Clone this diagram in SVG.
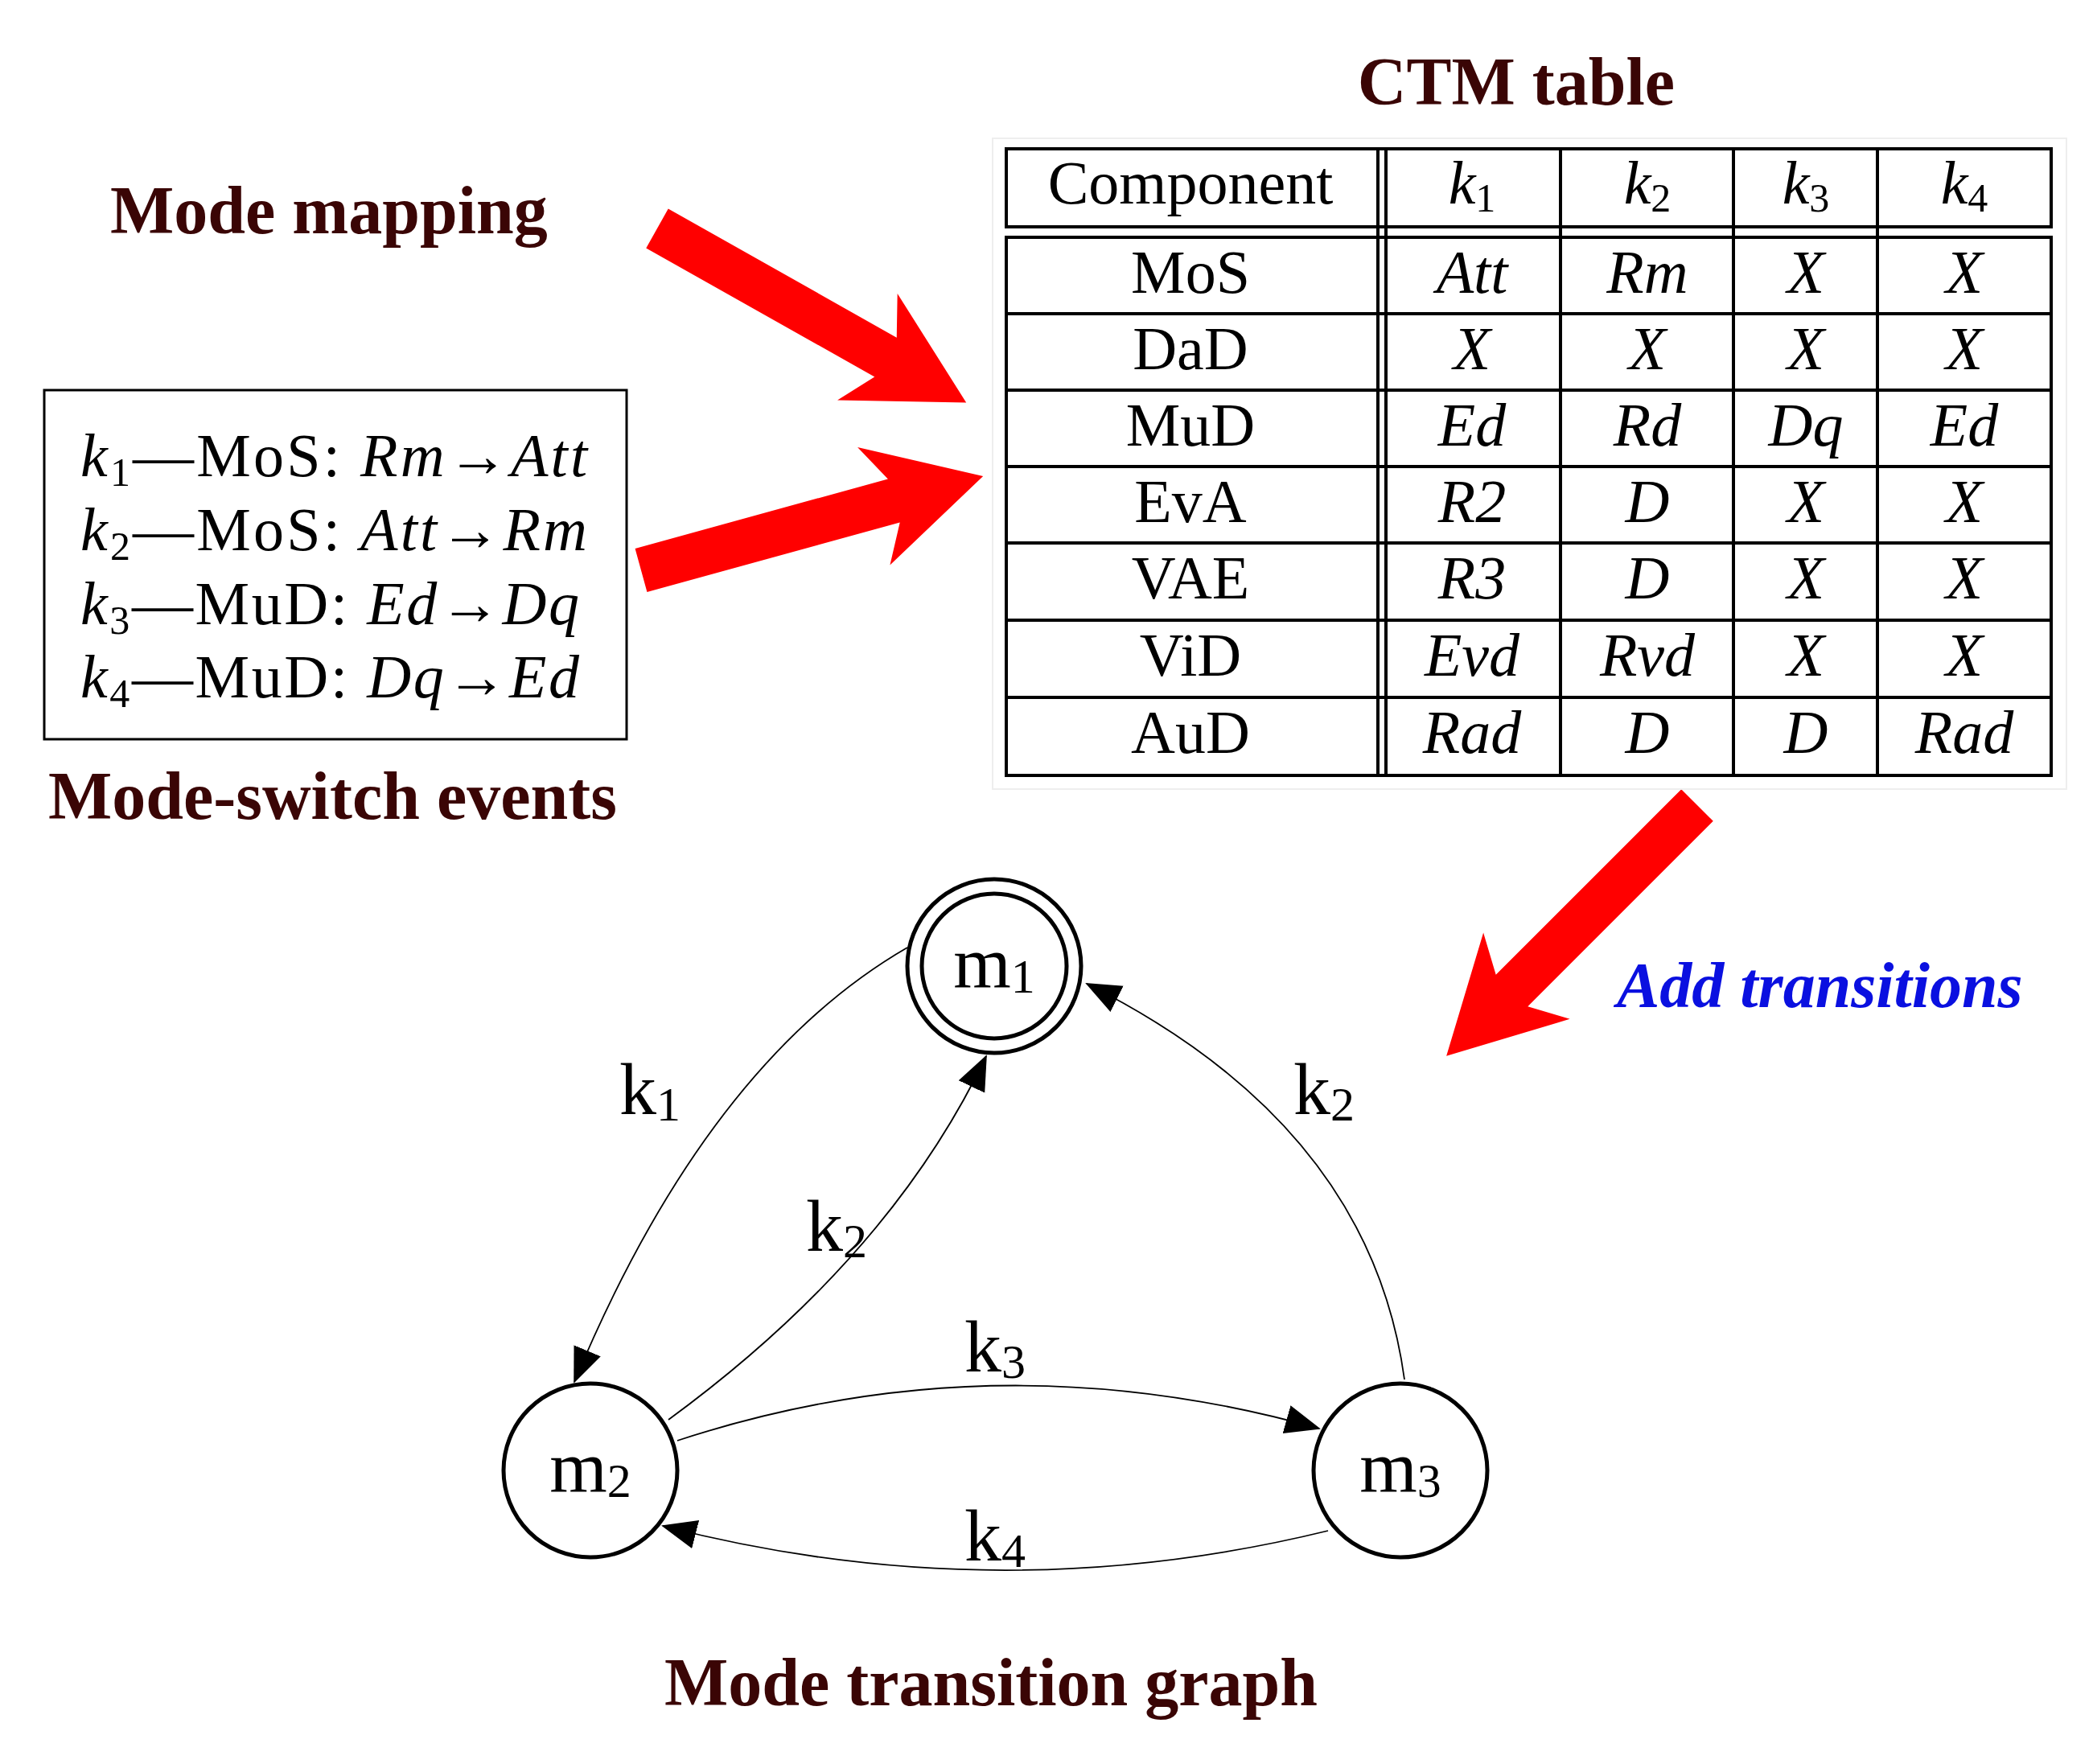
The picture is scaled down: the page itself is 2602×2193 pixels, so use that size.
<svg xmlns="http://www.w3.org/2000/svg" width="2602" height="2193" viewBox="0 0 2602 2193">
<style>
.title{font-family:"Liberation Serif",serif;font-weight:bold;fill:#3a0505;font-size:84px}
.t{font-family:"Liberation Serif",serif;font-size:76px;fill:#000}
.i{font-style:italic}
.cell{fill:none;stroke:#000;stroke-width:4}
.edge{fill:none;stroke:#000;stroke-width:1.8}
.node{fill:#fff;stroke:#000;stroke-width:5}
.nl{font-family:"Liberation Serif",serif;font-size:92px;text-anchor:middle}
.el{font-family:"Liberation Serif",serif;font-size:92px}
.red{fill:#ff0000}
</style>
<defs>
<marker id="ah" markerUnits="userSpaceOnUse" markerWidth="44" markerHeight="44" viewBox="0 0 44 44" refX="42" refY="22" orient="auto"><path d="M0,4 L44,22 L0,40 Z" fill="#000"/></marker>
<path id="arr" d="M0,-28 L326,-28 L300,-76 L441,0 L300,76 L326,28 L0,28 Z"/>
</defs>
<rect width="2602" height="2193" fill="#fff"/>
<text class="title" x="1885" y="130" text-anchor="middle" font-size="90">CTM table</text>
<text class="title" x="137" y="290">Mode mapping</text>
<text class="title" x="60" y="1018">Mode-switch events</text>
<text class="title" x="1232" y="2120" text-anchor="middle">Mode transition graph</text>
<text x="2010" y="1252" font-family="Liberation Serif,serif" font-weight="bold" font-style="italic" font-size="80" fill="#0a10e0">Add transitions</text>
<g id="arrows">
<use href="#arr" class="red" transform="translate(817,284) rotate(29.4)"/>
<use href="#arr" class="red" transform="translate(797,709) rotate(-15.4)"/>
<use href="#arr" class="red" transform="translate(2110,1001) rotate(135)"/>
</g>
<g id="events">
<rect x="55" y="485" width="724" height="434" fill="none" stroke="#000" stroke-width="3"/>
<g class="t" textLength="630">
<text x="100" y="592" textLength="630" lengthAdjust="spacing"><tspan class="i">k</tspan><tspan font-size="50" dy="12">1</tspan><tspan dy="-12">—MoS:  </tspan><tspan class="i">Rm</tspan>→<tspan class="i">Att</tspan></text>
<text x="100" y="684" textLength="630" lengthAdjust="spacing"><tspan class="i">k</tspan><tspan font-size="50" dy="12">2</tspan><tspan dy="-12">—MoS:  </tspan><tspan class="i">Att</tspan>→<tspan class="i">Rm</tspan></text>
<text x="100" y="776" textLength="620" lengthAdjust="spacing"><tspan class="i">k</tspan><tspan font-size="50" dy="12">3</tspan><tspan dy="-12">—MuD:  </tspan><tspan class="i">Ed</tspan>→<tspan class="i">Dq</tspan></text>
<text x="100" y="867" textLength="620" lengthAdjust="spacing"><tspan class="i">k</tspan><tspan font-size="50" dy="12">4</tspan><tspan dy="-12">—MuD:  </tspan><tspan class="i">Dq</tspan>→<tspan class="i">Ed</tspan></text>
</g>
</g>
<g id="table">
<rect x="1234" y="172" width="1335" height="809" fill="#fff" stroke="#eee" stroke-width="2"/>
<rect class="cell" x="1251" y="185" width="1299" height="97"/>
<rect class="cell" x="1251" y="295" width="1299" height="669"/>
<g stroke="#000" stroke-width="4">
<line x1="1713" y1="185" x2="1713" y2="964"/><line x1="1723" y1="185" x2="1723" y2="964"/>
<line x1="1940" y1="185" x2="1940" y2="964"/><line x1="2155" y1="185" x2="2155" y2="964"/><line x1="2334" y1="185" x2="2334" y2="964"/>
<line x1="1251" y1="390" x2="2550" y2="390"/><line x1="1251" y1="485" x2="2550" y2="485"/><line x1="1251" y1="580" x2="2550" y2="580"/><line x1="1251" y1="675" x2="2550" y2="675"/><line x1="1251" y1="771" x2="2550" y2="771"/><line x1="1251" y1="867" x2="2550" y2="867"/>
</g>
<g class="t" text-anchor="middle">
<text x="1480" y="253">Component</text>
<text x="1830" y="253"><tspan class="i">k</tspan><tspan font-size="50" dy="10">1</tspan></text>
<text x="2048" y="253"><tspan class="i">k</tspan><tspan font-size="50" dy="10">2</tspan></text>
<text x="2245" y="253"><tspan class="i">k</tspan><tspan font-size="50" dy="10">3</tspan></text>
<text x="2442" y="253"><tspan class="i">k</tspan><tspan font-size="50" dy="10">4</tspan></text>
<text x="1480" y="364">MoS</text><text x="1480" y="459">DaD</text><text x="1480" y="554">MuD</text><text x="1480" y="649">EvA</text><text x="1480" y="744">VAE</text><text x="1480" y="840">ViD</text><text x="1480" y="936">AuD</text>
<g class="i">
<text x="1830" y="364">Att</text><text x="2048" y="364">Rm</text><text x="2245" y="364">X</text><text x="2442" y="364">X</text>
<text x="1830" y="459">X</text><text x="2048" y="459">X</text><text x="2245" y="459">X</text><text x="2442" y="459">X</text>
<text x="1830" y="554">Ed</text><text x="2048" y="554">Rd</text><text x="2245" y="554">Dq</text><text x="2442" y="554">Ed</text>
<text x="1830" y="649">R2</text><text x="2048" y="649">D</text><text x="2245" y="649">X</text><text x="2442" y="649">X</text>
<text x="1830" y="744">R3</text><text x="2048" y="744">D</text><text x="2245" y="744">X</text><text x="2442" y="744">X</text>
<text x="1830" y="840">Evd</text><text x="2048" y="840">Rvd</text><text x="2245" y="840">X</text><text x="2442" y="840">X</text>
<text x="1830" y="936">Rad</text><text x="2048" y="936">D</text><text x="2245" y="936">D</text><text x="2442" y="936">Rad</text>
</g>
</g>
</g>
<g id="edges">
<path class="edge" d="M1128,1178 Q879,1322 714,1718" marker-end="url(#ah)"/>
<path class="edge" d="M831,1765 Q1107,1563 1226,1313" marker-end="url(#ah)"/>
<path class="edge" d="M1746,1715 Q1703,1399 1351,1223" marker-end="url(#ah)"/>
<path class="edge" d="M842,1791 Q1235,1662 1640,1776" marker-end="url(#ah)"/>
<path class="edge" d="M1651,1903 Q1238,2004 824,1897" marker-end="url(#ah)"/>
<g class="el">
<text x="770" y="1385">k<tspan font-size="60" dy="8">1</tspan></text>
<text x="1002" y="1555">k<tspan font-size="60" dy="8">2</tspan></text>
<text x="1608" y="1385">k<tspan font-size="60" dy="8">2</tspan></text>
<text x="1199" y="1705">k<tspan font-size="60" dy="8">3</tspan></text>
<text x="1199" y="1940">k<tspan font-size="60" dy="8">4</tspan></text>
</g>
</g>
<g id="m1"><circle class="node" cx="1236" cy="1201" r="108"/><circle class="node" cx="1236" cy="1201" r="90" stroke-width="3.5"/><text class="nl" x="1236" y="1228">m<tspan font-size="60" dy="6">1</tspan></text></g>
<g id="m2"><circle class="node" cx="734" cy="1828" r="108"/><text class="nl" x="734" y="1855">m<tspan font-size="60" dy="6">2</tspan></text></g>
<g id="m3"><circle class="node" cx="1741" cy="1828" r="108"/><text class="nl" x="1741" y="1855">m<tspan font-size="60" dy="6">3</tspan></text></g>
</svg>
